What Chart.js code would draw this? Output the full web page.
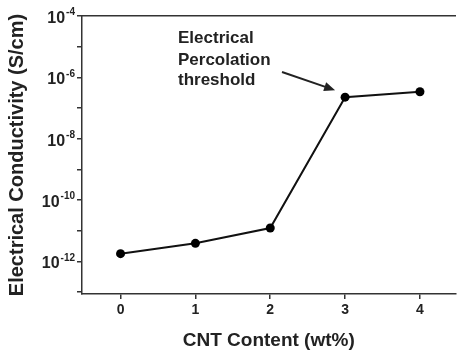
<!DOCTYPE html>
<html>
<head>
<meta charset="utf-8">
<script src="https://cdn.jsdelivr.net/npm/chart.js@4"></script>
<style>
  body { margin: 0; background: #fff; }
  canvas { display: block; }
</style>
</head>
<body>
<canvas id="chart" width="460" height="350"></canvas>
<script>
// values
const cntContent = [0, 1, 2, 3, 4];
const conductivity = [1.8e-12, 3.9e-12, 1.23e-11, 2.26e-7, 3.4e-7];
const xTickLabels = ['0', '1', '2', '3', '4'];
const yTickExponents = [-13, -12, -11, -10, -9, -8, -7, -6, -5, -4];
const yLabelExponents = [-12, -10, -8, -6, -4];
const noteLines = ['Electrical', 'Percolation', 'threshold'];

const FONT = "'Liberation Sans', Arial, sans-serif";
const INK = '#222';
const AXIS = '#333';

// "10" with a raised exponent, and the callout with its arrow
const extras = {
    id: 'extras',
    afterDraw(chart) {
        const ctx = chart.ctx;
        const y = chart.scales.y;
        const x = chart.scales.x;
        ctx.save();
        ctx.fillStyle = INK;
        ctx.textAlign = 'left';
        ctx.textBaseline = 'middle';
        yLabelExponents.forEach(e => {
            const py = y.getPixelForValue(Math.pow(10, e));
            const exp = String(e);
            ctx.font = 'bold 10px ' + FONT;
            const ew = ctx.measureText(exp).width;
            ctx.font = 'bold 16px ' + FONT;
            const bw = ctx.measureText('10').width;
            const right = 75;
            ctx.fillText('10', right - ew - bw - 1, py + 2.5);
            ctx.font = 'bold 10px ' + FONT;
            ctx.fillText(exp, right - ew, py - 3.5);
        });

        // callout text
        ctx.font = 'bold 17px ' + FONT;
        ctx.textBaseline = 'alphabetic';
        const tx = 178;
        [43, 65, 85].forEach((by, i) => ctx.fillText(noteLines[i], tx, by));

        // arrow towards the 3 wt% point
        const px = x.getPixelForValue(cntContent[3]);
        const py = y.getPixelForValue(conductivity[3]);
        const ex = px - 10, ey = py - 7;
        const sx = 282, sy = 72;
        const ang = Math.atan2(ey - sy, ex - sx);
        ctx.strokeStyle = INK;
        ctx.lineWidth = 2;
        ctx.beginPath();
        ctx.moveTo(sx, sy);
        ctx.lineTo(ex - 8 * Math.cos(ang), ey - 8 * Math.sin(ang));
        ctx.stroke();
        ctx.beginPath();
        ctx.moveTo(ex, ey);
        ctx.lineTo(ex - 11 * Math.cos(ang) + 4.5 * Math.sin(ang), ey - 11 * Math.sin(ang) - 4.5 * Math.cos(ang));
        ctx.lineTo(ex - 11 * Math.cos(ang) - 4.5 * Math.sin(ang), ey - 11 * Math.sin(ang) + 4.5 * Math.cos(ang));
        ctx.closePath();
        ctx.fill();
        ctx.restore();
    }
};

new Chart(document.getElementById('chart'), {
    type: 'line',
    data: {
        datasets: [{
            data: cntContent.map((c, i) => ({ x: c, y: conductivity[i] })),
            borderColor: '#111',
            borderWidth: 2,
            pointBackgroundColor: '#000',
            pointBorderColor: '#000',
            pointRadius: 4.5,
            pointBorderWidth: 0,
            tension: 0
        }]
    },
    options: {
        responsive: false,
        animation: false,
        devicePixelRatio: 1,
        layout: { padding: { top: 16, right: 0, left: 0, bottom: 0 } },
        plugins: {
            legend: { display: false },
            tooltip: { enabled: false }
        },
        scales: {
            x: {
                type: 'linear',
                position: 'bottom',
                min: -0.515,
                max: 4.475,
                afterBuildTicks: s => { s.ticks = cntContent.map(v => ({ value: v })); },
                afterFit: s => { s.height = 56; },
                ticks: {
                    callback: (v, i) => xTickLabels[i],
                    color: INK,
                    font: { family: FONT, size: 14, weight: 'bold' },
                    padding: 3,
                    maxRotation: 0
                },
                grid: { display: true, drawOnChartArea: false, tickLength: 5, color: AXIS, lineWidth: 1.5 },
                border: { display: true, color: AXIS, width: 1.5 },
                title: {
                    display: true,
                    text: 'CNT Content (wt%)',
                    color: INK,
                    font: { family: FONT, size: 19, weight: 'bold', lineHeight: 1.0 },
                    padding: 0
                }
            },
            top: {
                type: 'linear',
                position: 'top',
                afterFit: s => { s.height = 0; },
                ticks: { display: false },
                grid: { display: false },
                border: { display: true, color: AXIS, width: 1.5 }
            },
            y: {
                type: 'logarithmic',
                min: Math.pow(10, -13.06),
                max: 1e-4,
                afterBuildTicks: s => { s.ticks = yTickExponents.map(e => ({ value: Math.pow(10, e) })); },
                afterFit: s => { s.width = 82; },
                ticks: { callback: () => '', padding: 0 },
                grid: { display: true, drawOnChartArea: false, tickLength: 5, color: AXIS, lineWidth: 1.5 },
                border: { display: true, color: AXIS, width: 1.5 },
                title: {
                    display: true,
                    text: 'Electrical Conductivity (S/cm)',
                    color: INK,
                    font: { family: FONT, size: 20, weight: 'bold', lineHeight: 1.2 },
                    padding: { top: 5, bottom: 0 }
                }
            }
        }
    },
    plugins: [extras]
});
</script>
</body>
</html>
